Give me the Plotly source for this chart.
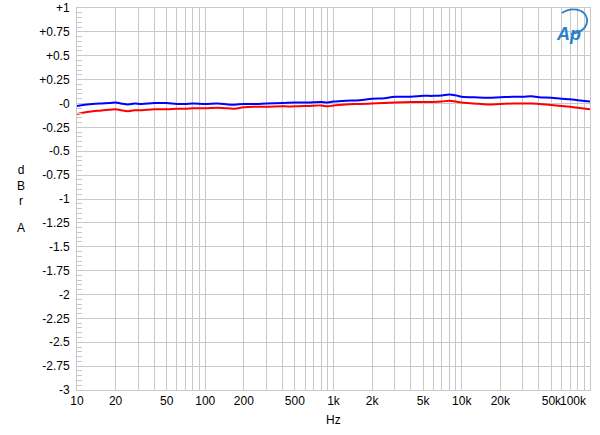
import plotly.graph_objects as go

freq_hz = [10, 12, 15, 18, 20, 22, 25, 28, 32, 40, 50, 60, 70, 80, 100, 125, 150, 170, 200,
           250, 300, 400, 500, 630, 800, 900, 1000, 1250, 1600, 2000, 2500, 3000, 4000, 5000,
           6000, 7000, 8000, 9000, 10000, 12500, 16000, 20000, 25000, 30000, 35000, 40000,
           50000, 60000, 70000, 80000, 100000]

blue_dbr = [-0.025, -0.01, 0.0, 0.005, 0.01, 0.0, -0.01, 0.0, -0.005, 0.005, 0.005, -0.005,
            -0.005, 0.0, -0.005, 0.0, -0.01, -0.012, -0.005, -0.005, 0.0, 0.005, 0.01, 0.01,
            0.015, 0.01, 0.02, 0.03, 0.035, 0.05, 0.055, 0.07, 0.07, 0.08, 0.08, 0.085, 0.095,
            0.085, 0.07, 0.065, 0.06, 0.065, 0.07, 0.07, 0.075, 0.065, 0.06, 0.05, 0.045,
            0.035, 0.02]

red_dbr = [-0.11, -0.09, -0.075, -0.065, -0.06, -0.07, -0.08, -0.07, -0.07, -0.06, -0.06,
           -0.055, -0.055, -0.05, -0.05, -0.045, -0.05, -0.055, -0.04, -0.035, -0.035, -0.03,
           -0.03, -0.025, -0.02, -0.03, -0.02, -0.01, -0.005, 0.0, 0.005, 0.01, 0.015, 0.015,
           0.015, 0.02, 0.03, 0.02, 0.01, 0.0, -0.01, -0.005, 0.0, 0.0, 0.0, -0.005, -0.015,
           -0.025, -0.035, -0.045, -0.06]

y_tick_vals = [1, 0.75, 0.5, 0.25, 0, -0.25, -0.5, -0.75, -1, -1.25, -1.5, -1.75, -2,
               -2.25, -2.5, -2.75, -3]
y_tick_text = ["+1", "+0.75", "+0.5", "+0.25", "-0", "-0.25", "-0.5", "-0.75", "-1", "-1.25",
               "-1.5", "-1.75", "-2", "-2.25", "-2.5", "-2.75", "-3"]

x_label_vals = [10, 20, 50, 100, 200, 500, 1000, 2000, 5000, 10000, 20000, 50000]
x_label_text = ["10", "20", "50", "100", "200", "500", "1k", "2k", "5k", "10k", "20k", "50k"]

grid_vals = [m * 10 ** d for d in range(1, 5) for m in range(1, 10)] + [100000]
grid_text = [x_label_text[x_label_vals.index(v)] if v in x_label_vals else "" for v in grid_vals]

FONT = "Liberation Sans, Arial, sans-serif"
GRID = "#c8c8c8"
L, R, T, B = 77, 590, 8, 390
W, H = R - L, B - T


def px(xp):
    return (xp - L) / W


def py(yp):
    return 1 - (yp - T) / H


fig = go.Figure()
fig.add_trace(go.Scatter(x=freq_hz, y=red_dbr, mode="lines",
                         line=dict(color="#ff0000", width=2), line_shape="spline"))
fig.add_trace(go.Scatter(x=freq_hz, y=blue_dbr, mode="lines",
                         line=dict(color="#0000ff", width=2), line_shape="spline"))

fig.update_layout(
    width=600, height=435,
    margin=dict(l=L, r=600 - R, t=T, b=435 - B, autoexpand=False),
    paper_bgcolor="white", plot_bgcolor="white",
    showlegend=False,
    font=dict(family=FONT, size=12, color="black"),
    xaxis=dict(type="log", range=[1, 5], tickmode="array", tickvals=grid_vals,
               ticktext=grid_text, showgrid=True, gridcolor=GRID, gridwidth=1,
               ticks="", showline=True, linecolor=GRID, mirror=True, zeroline=False,
               tickfont=dict(size=12), automargin=False, tickangle=0),
    yaxis=dict(range=[-3, 1], tickmode="array", tickvals=y_tick_vals, ticktext=y_tick_text,
               showgrid=True, gridcolor=GRID, gridwidth=1, zeroline=False,
               ticks="inside", ticklen=5, tickcolor=GRID, showline=True, linecolor=GRID,
               mirror=True, tickfont=dict(size=12), ticklabelstandoff=4, automargin=False,
               minor=dict(dtick=0.05, tick0=0, ticks="inside", ticklen=5, tickcolor=GRID,
                          showgrid=False)),
)

fig.add_annotation(x=1, xref="paper", y=0, yref="paper", text="100k", showarrow=False,
                   xanchor="right", yanchor="top", yshift=-2, xshift=-1,
                   font=dict(family=FONT, size=12))
fig.add_annotation(x=px(333), xref="paper", y=0, yref="paper", text="Hz",
                   showarrow=False, yanchor="top", yshift=-21,
                   font=dict(family=FONT, size=12))
fig.add_annotation(x=px(15), xref="paper", y=py(185), yref="paper", text="d<br>B<br>r",
                   showarrow=False, xanchor="left", font=dict(family=FONT, size=12))
fig.add_annotation(x=px(15), xref="paper", y=py(228), yref="paper", xanchor="left",
                   text="A", showarrow=False, font=dict(family=FONT, size=12))

# AP logo
fig.add_annotation(x=px(554), xref="paper", y=py(22), yref="paper", xanchor="left",
                   text="<b><i>Ap</i></b>", showarrow=False,
                   font=dict(family=FONT, size=18, color="#2a7fc8"))
fig.add_shape(type="path", xref="paper", yref="paper",
              path="M %f,%f C %f,%f %f,%f %f,%f C %f,%f %f,%f %f,%f" % (
                  px(562), py(13), px(570), py(7), px(585), py(8),
                  px(587), py(19),
                  px(588), py(28), px(580), py(33), px(571), py(34)),
              line=dict(color="#2a7fc8", width=1.8))

fig.write_html("out.html", config={"displayModeBar": False},
               post_script="document.body.style.margin='0';document.body.style.padding='0';")
